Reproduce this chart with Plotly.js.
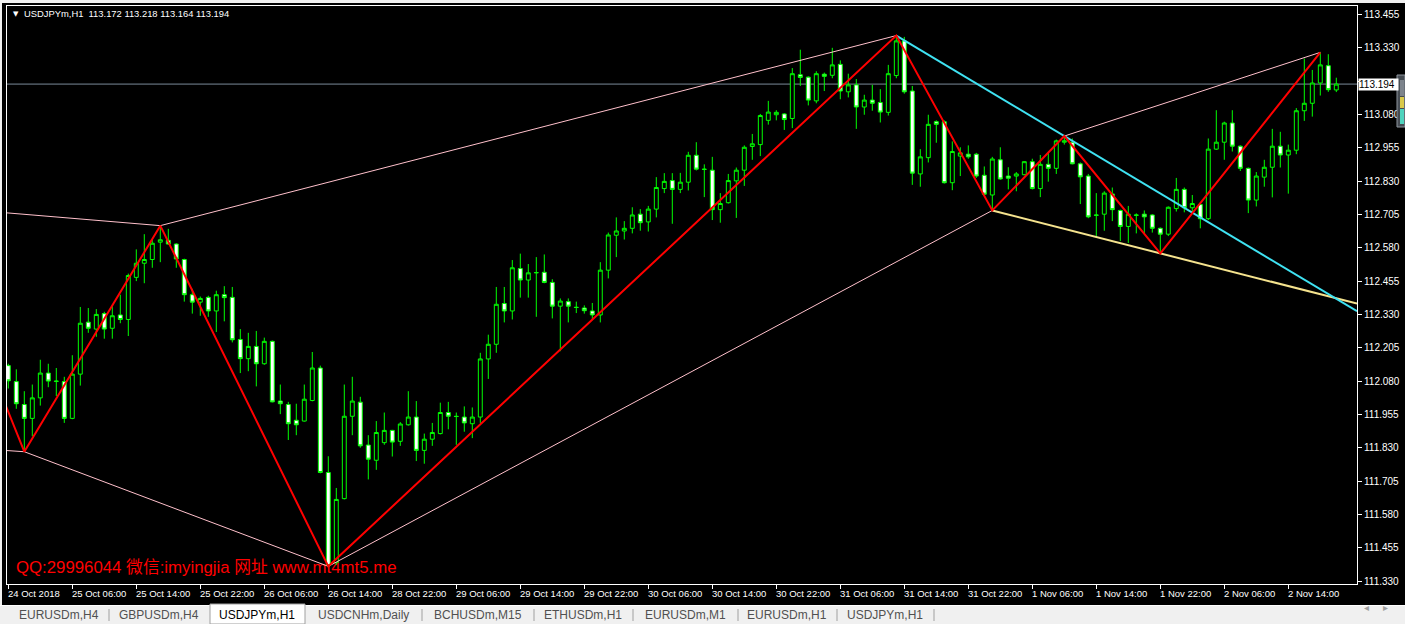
<!DOCTYPE html>
<html><head><meta charset="utf-8">
<script src="https://cdn.plot.ly/plotly-3.0.1.min.js"></script>
<style>html,body{margin:0;padding:0;background:#000;overflow:hidden}#chart{width:1405px;height:624px}</style>
</head><body><div id="chart"></div>
<script>
// ---------- DATA ----------
const symbolTitle = "USDJPYm,H1";
const openP = [112.138,112.078,111.992,111.940,112.017,112.110,112.080,112.078,111.940,112.106,
112.301,112.275,112.333,112.278,112.328,112.311,112.469,112.522,112.536,112.601,
112.608,112.594,112.536,112.404,112.376,112.394,112.343,112.404,112.394,112.236,
112.164,112.210,112.145,112.229,112.005,111.992,111.933,111.930,112.007,112.129,
111.737,111.399,111.639,111.948,112.001,111.840,111.783,111.849,111.895,111.854,
111.916,111.945,111.820,111.862,111.883,111.962,111.948,111.945,111.920,111.945,
112.163,112.218,112.371,112.343,112.502,112.459,112.486,112.488,112.450,112.361,
112.378,112.357,112.354,112.343,112.328,112.496,112.627,112.643,112.653,112.706,
112.677,112.725,112.802,112.832,112.799,112.826,112.927,112.875,112.871,112.723,
112.749,112.831,112.871,112.960,112.967,113.058,113.079,113.082,113.065,113.229,
113.220,113.131,113.231,113.227,113.268,113.165,113.191,113.108,113.134,113.125,
113.088,113.226,113.356,113.168,112.857,112.918,113.053,113.053,112.824,112.924,
112.931,112.931,112.852,112.778,112.910,112.849,112.849,112.854,112.903,112.802,
112.893,112.878,112.976,112.976,112.895,112.849,112.703,112.706,112.782,112.720,
112.660,112.703,112.706,112.703,112.653,112.631,112.727,112.799,112.730,112.742,
112.689,112.950,112.976,113.048,112.961,112.878,112.759,112.845,112.882,112.961,
112.928,112.946,113.094,113.122,113.198,113.263,113.172];
const highP = [112.145,112.124,112.042,112.067,112.160,112.145,112.129,112.096,112.177,112.358,
112.354,112.350,112.340,112.361,112.404,112.483,112.574,112.631,112.613,112.663,
112.651,112.597,112.539,112.426,112.397,112.400,112.419,112.436,112.433,112.275,
112.261,112.268,112.243,112.232,112.067,112.002,111.995,112.067,112.189,112.138,
111.798,111.679,112.067,112.096,112.021,111.877,111.930,111.962,111.897,111.926,
112.042,112.005,111.883,111.923,111.999,112.002,111.962,111.985,111.981,112.186,
112.254,112.433,112.433,112.534,112.558,112.519,112.545,112.555,112.462,112.390,
112.390,112.378,112.364,112.373,112.526,112.637,112.694,112.680,112.732,112.725,
112.737,112.845,112.860,112.860,112.861,112.940,112.976,112.893,112.921,112.785,
112.857,112.881,112.964,113.007,113.082,113.131,113.096,113.085,113.254,113.323,
113.223,113.242,113.237,113.330,113.283,113.233,113.213,113.154,113.191,113.175,
113.266,113.376,113.371,113.187,112.950,113.079,113.058,113.058,112.979,112.957,
112.964,112.936,112.885,112.921,112.957,112.882,112.864,112.904,112.914,112.928,
112.940,112.986,112.999,112.990,112.900,112.857,112.785,112.792,112.806,112.723,
112.737,112.709,112.720,112.706,112.656,112.735,112.842,112.806,112.778,112.749,
112.990,113.096,113.053,113.096,112.964,112.881,112.864,112.910,113.026,113.015,
112.967,113.104,113.290,113.247,113.313,113.306,113.218];
const lowP = [112.052,111.976,111.815,111.873,111.988,112.057,112.024,111.923,111.937,112.063,
112.261,112.246,112.239,112.239,112.297,112.249,112.455,112.447,112.505,112.526,
112.591,112.505,112.378,112.333,112.325,112.321,112.264,112.304,112.225,112.110,
112.117,112.060,112.141,112.000,111.956,111.859,111.877,111.928,112.004,111.734,
111.385,111.390,111.636,111.877,111.830,111.711,111.747,111.841,111.797,111.837,
111.913,111.780,111.770,111.837,111.880,111.899,111.841,111.890,111.866,111.923,
112.088,112.186,112.300,112.311,112.393,112.393,112.321,112.447,112.315,112.192,
112.300,112.335,112.333,112.311,112.300,112.465,112.545,112.611,112.634,112.644,
112.641,112.694,112.785,112.670,112.785,112.795,112.870,112.770,112.684,112.674,
112.746,112.692,112.812,112.910,112.924,113.042,113.058,113.022,113.029,113.187,
113.114,113.122,113.168,113.216,113.137,113.144,113.026,113.079,113.094,113.050,
113.076,113.216,113.158,112.816,112.809,112.900,112.974,112.821,112.796,112.849,
112.914,112.842,112.778,112.720,112.835,112.799,112.792,112.852,112.799,112.770,
112.828,112.857,112.967,112.893,112.744,112.691,112.620,112.644,112.680,112.605,
112.598,112.634,112.634,112.637,112.559,112.624,112.716,112.713,112.713,112.653,
112.684,112.947,112.910,112.941,112.868,112.710,112.735,112.809,112.769,112.881,
112.783,112.931,113.056,113.072,113.151,113.165,113.164];
const closeP = [112.081,111.995,111.940,112.017,112.110,112.080,112.079,111.940,112.106,112.297,
112.278,112.330,112.275,112.325,112.311,112.476,112.522,112.536,112.597,112.610,
112.594,112.538,112.404,112.376,112.390,112.343,112.404,112.393,112.235,112.164,
112.210,112.145,112.229,112.002,111.995,111.920,111.916,112.012,112.129,111.737,
111.388,111.636,111.948,112.005,111.837,111.787,111.887,111.895,111.851,111.919,
111.945,111.820,111.862,111.887,111.962,111.948,111.947,111.923,111.945,112.163,
112.218,112.368,112.343,112.505,112.459,112.486,112.487,112.450,112.361,112.380,
112.361,112.356,112.344,112.328,112.496,112.628,112.643,112.653,112.703,112.674,
112.725,112.806,112.829,112.799,112.826,112.927,112.875,112.874,112.723,112.746,
112.832,112.871,112.957,112.970,113.076,113.089,113.088,113.061,113.233,113.219,
113.134,113.233,113.223,113.266,113.168,113.191,113.108,113.134,113.122,113.089,
113.233,113.356,113.165,112.860,112.921,113.043,113.043,112.824,112.941,112.936,
112.921,112.849,112.781,112.913,112.838,112.841,112.857,112.903,112.802,112.893,
112.878,112.981,112.981,112.895,112.846,112.696,112.702,112.785,112.723,112.660,
112.706,112.702,112.696,112.653,112.631,112.732,112.799,112.730,112.746,112.689,
112.950,112.976,113.048,112.961,112.878,112.759,112.849,112.882,112.961,112.928,
112.946,113.094,113.122,113.198,113.266,113.173,113.194];

const timeTickBars = [0,8,16,24,32,40,48,56,64,72,80,88,96,104,112,120,128,136,144,152,160];
const timeTickLabels = ["24 Oct 2018","25 Oct 06:00","25 Oct 14:00","25 Oct 22:00","26 Oct 06:00","26 Oct 14:00",
"28 Oct 22:00","29 Oct 06:00","29 Oct 14:00","29 Oct 22:00","30 Oct 06:00","30 Oct 14:00","30 Oct 22:00",
"31 Oct 06:00","31 Oct 14:00","31 Oct 22:00","1 Nov 06:00","1 Nov 14:00","1 Nov 22:00","2 Nov 06:00","2 Nov 14:00"];
// price scale: 113.205 sits under the bid label, so MT4 hides its text
const priceTickValues = [111.330,111.455,111.580,111.705,111.830,111.955,112.080,112.205,112.330,
112.455,112.580,112.705,112.830,112.955,113.080,113.205,113.330,113.455];
const priceTickLabels = ["111.330","111.455","111.580","111.705","111.830","111.955","112.080","112.205","112.330",
"112.455","112.580","112.705","112.830","112.955","113.080","","113.330","113.455"];

const zigzagBars = [-1,2,19,40,111,123,132,144,164];
const zigzagPrices = [112.039,111.815,112.663,111.385,113.376,112.720,112.999,112.559,113.313];
const pinkBarsA = [-5,19,111];      const pinkPricesA = [112.723,112.663,113.376];
const pinkBarsB = [-5,2,40,123];    const pinkPricesB = [111.829,111.815,111.385,112.720];
const pinkBarsC = [132,164];        const pinkPricesC = [112.999,113.313];
const cyanBars = [111,132];         const cyanPrices = [113.376,112.999];
const yellowBars = [123,144];       const yellowPrices = [112.720,112.559];

const tabNames = ["EURUSDm,H4","GBPUSDm,H4","USDJPYm,H1","USDCNHm,Daily","BCHUSDm,M15","ETHUSDm,H1","EURUSDm,M1","EURUSDm,H1","USDJPYm,H1"];
const activeTab = 2;
const watermark = "QQ:29996044 微信:imyingjia 网址 www.mt4mt5.me";

// ---------- GEOMETRY (pixel layout of the MT4 window) ----------
const W = 1405, H = 624, PL = 7, PR = 1357, PT = 6, PB = 584;
const px = x => (x - PL) / (PR - PL);
const py = y => (PB - y) / (PB - PT);
const xRange = [-0.1625, 168.5875];
const yRange = [111.3188, 113.4869];
const FONT = "'Liberation Sans', Arial, sans-serif";

const bars = openP.map((_, i) => i);
const lastClose = closeP[closeP.length - 1];

function ray(xs, ys) {
  const s = (ys[1] - ys[0]) / (xs[1] - xs[0]);
  return {x: [xs[0], xs[1], xRange[1]], y: [ys[0], ys[1], ys[0] + s * (xRange[1] - xs[0])]};
}
const cy = ray(cyanBars, cyanPrices), yl = ray(yellowBars, yellowPrices);

const traces = [
  {type: 'candlestick', x: bars, open: openP, high: highP, low: lowP, close: closeP,
   increasing: {line: {color: '#00ff00', width: 1}, fillcolor: '#000000'},
   decreasing: {line: {color: '#00ff00', width: 1}, fillcolor: '#ffffff'},
   whiskerwidth: 0, hoverinfo: 'skip', showlegend: false},
  {type: 'scatter', mode: 'lines', x: pinkBarsA, y: pinkPricesA, line: {color: '#ffc0cb', width: 1}, hoverinfo: 'skip', showlegend: false},
  {type: 'scatter', mode: 'lines', x: pinkBarsB, y: pinkPricesB, line: {color: '#ffc0cb', width: 1}, hoverinfo: 'skip', showlegend: false},
  {type: 'scatter', mode: 'lines', x: pinkBarsC, y: pinkPricesC, line: {color: '#ffc0cb', width: 1}, hoverinfo: 'skip', showlegend: false},
  {type: 'scatter', mode: 'lines', x: yl.x, y: yl.y, line: {color: '#f5e38e', width: 2}, hoverinfo: 'skip', showlegend: false},
  {type: 'scatter', mode: 'lines', x: cy.x, y: cy.y, line: {color: '#3fe2f2', width: 2}, hoverinfo: 'skip', showlegend: false},
  {type: 'scatter', mode: 'lines', x: zigzagBars, y: zigzagPrices, line: {color: '#ff0000', width: 2}, hoverinfo: 'skip', showlegend: false}
];

const shapes = [];
const annotations = [];
const rectPx = (x0, y0, x1, y1, fill, lineColor, layer) => shapes.push({
  type: 'rect', xref: 'paper', yref: 'paper', x0: px(x0), x1: px(x1), y0: py(y1), y1: py(y0),
  fillcolor: fill, line: {width: lineColor ? 1 : 0, color: lineColor || fill}, layer: layer || 'above'});
const linePx = (x0, y0, x1, y1, color) => shapes.push({
  type: 'line', xref: 'paper', yref: 'paper', x0: px(x0), x1: px(x1), y0: py(y0), y1: py(y1),
  line: {width: 1, color: color}, layer: 'above'});

// watermark (behind candles)
shapes.push({type: 'rect', xref: 'paper', yref: 'paper', x0: px(13), x1: px(420), y0: py(577), y1: py(555),
  line: {width: 0}, fillcolor: 'rgba(0,0,0,0)', layer: 'below',
  label: {text: watermark, textposition: 'middle left', padding: 0,
          font: {size: 16.8, color: '#ff0000', family: "'Liberation Sans', Arial, 'Noto Sans CJK SC', sans-serif"}}});
// current price line
shapes.push({type: 'line', xref: 'paper', yref: 'y', x0: 0, x1: px(1358), y0: lastClose, y1: lastClose,
  line: {color: '#7a8a9a', width: 1}, layer: 'below'});

// window chrome
rectPx(0, 0, 1405, 3, '#f0f0f0');
rectPx(0, 0, 2, 605, '#f0f0f0');
rectPx(0, 605, 1405, 624, '#f0f0f0');
linePx(0, 605.5, 1405, 605.5, '#ffffff');
// tabs
const tabCenters = [59, 159, 257, 363, 478, 583, 685, 787, 885];
const tabSeps = [109, 422, 534, 633, 738, 837, 934];
rectPx(210, 604, 305, 624, '#ffffff', '#a0a0a0');
tabSeps.forEach(s => linePx(s, 609, s, 621, '#a0a0a0'));
tabNames.forEach((t, i) => annotations.push({xref: 'paper', yref: 'paper', x: px(tabCenters[i]), y: py(614.5),
  text: t, showarrow: false, xanchor: 'center', yanchor: 'middle',
  font: {size: 12, family: FONT, color: i === activeTab ? '#000000' : '#505050'}}));
annotations.push({xref: 'paper', yref: 'paper', x: px(1371), y: py(614.5), text: '◂', showarrow: false,
  font: {size: 10, color: '#a0a0a0', family: FONT}});
annotations.push({xref: 'paper', yref: 'paper', x: px(1390), y: py(614.5), text: '▸', showarrow: false,
  font: {size: 10, color: '#a0a0a0', family: FONT}});

// time labels (left-aligned at tick, MT4 style)
timeTickBars.forEach((b, i) => annotations.push({xref: 'x', yref: 'paper', x: b, y: py(593),
  text: timeTickLabels[i], showarrow: false, xanchor: 'left', yanchor: 'middle', xshift: -2,
  font: {size: 9.5, color: '#ffffff', family: FONT}}));

// title
annotations.push({xref: 'paper', yref: 'paper', x: px(11), y: py(13.5), text: '▼', showarrow: false,
  xanchor: 'left', yanchor: 'middle', font: {size: 7, color: '#ffffff', family: "'DejaVu Sans', sans-serif"}});
annotations.push({xref: 'paper', yref: 'paper', x: px(22), y: py(14), showarrow: false, xanchor: 'left', yanchor: 'middle',
  text: symbolTitle + '\u00a0\u00a0' + [openP, highP, lowP, closeP].map(a => a[a.length - 1].toFixed(3)).join(' '),
  font: {size: 9.4, color: '#ffffff', family: FONT}});

// bid label on price scale
annotations.push({xref: 'paper', yref: 'y', x: px(1358), y: lastClose, xanchor: 'left', yanchor: 'middle',
  text: lastClose.toFixed(3), showarrow: false, bgcolor: '#ffffff', borderpad: 0, width: 39, height: 11,
  align: 'left', font: {size: 10, color: '#000000', family: FONT}});

// depth widget at right edge
rectPx(1397, 75, 1405, 127, '#454b52', '#8f969e');
rectPx(1400, 80, 1404, 96, '#7d848c');
rectPx(1400, 97, 1404, 108, '#d9c94a');
rectPx(1400, 109, 1404, 124, '#4fd3bd');

const layout = {
  width: W, height: H,
  margin: {l: PL, r: W - PR, t: PT, b: H - PB, pad: 0},
  paper_bgcolor: '#000000', plot_bgcolor: '#000000',
  showlegend: false, dragmode: false, hovermode: false,
  boxgap: 0.3, boxgroupgap: 0.3,
  xaxis: {range: xRange, showgrid: false, zeroline: false, showline: true, mirror: true,
          linecolor: '#ffffff', linewidth: 1, ticks: 'outside', ticklen: 4, tickcolor: '#ffffff', tickwidth: 1,
          tickmode: 'array', tickvals: timeTickBars, showticklabels: false, rangeslider: {visible: false}, fixedrange: true},
  yaxis: {range: yRange, side: 'right', showgrid: false, zeroline: false, showline: true, mirror: true,
          linecolor: '#ffffff', linewidth: 1, ticks: 'outside', ticklen: 4, tickcolor: '#ffffff', tickwidth: 1,
          tickmode: 'array', tickvals: priceTickValues, ticktext: priceTickLabels,
          tickfont: {size: 10, color: '#ffffff', family: FONT}, fixedrange: true},
  shapes: shapes,
  annotations: annotations
};

Plotly.newPlot('chart', traces, layout, {staticPlot: true, displayModeBar: false});
</script>
</body></html>
